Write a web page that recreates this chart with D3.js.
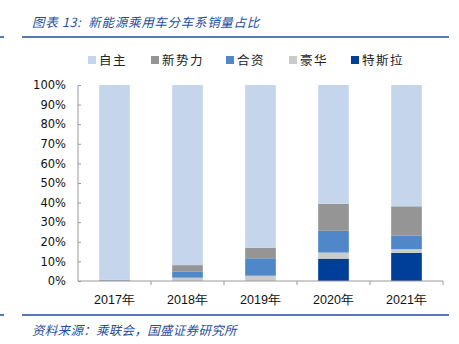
<!DOCTYPE html>
<html><head><meta charset="utf-8">
<script src="https://cdn.jsdelivr.net/npm/d3@7/dist/d3.min.js"></script>
<style>body{margin:0;background:#fff}svg{display:block}</style>
</head><body>
<script>
const years = ["2017年","2018年","2019年","2020年","2021年"];
const seriesNames = ["特斯拉","豪华","合资","新势力","自主"];
const tesla   = [0,   0,   0,   11.4, 14.3];
const luxury  = [0.2, 1.7, 2.7, 3.1,  2.0];
const jv      = [0.4, 3.0, 8.9, 11.1, 6.8];
const newf    = [0,   3.4, 5.3, 13.8, 15.0];
const domestic= years.map((d,i)=>100 - tesla[i]-luxury[i]-jv[i]-newf[i]);
const yTicks = [0,10,20,30,40,50,60,70,80,90,100];
const legendOrder = ["自主","新势力","合资","豪华","特斯拉"];
const colors = {"自主":"#c5d5eb","新势力":"#959595","合资":"#4f87c8","豪华":"#cbcbcb","特斯拉":"#003f99"};

const W=459,H=344;
const svg=d3.select("body").append("svg").attr("width",W).attr("height",H);
const blue="#1f4e9c";

// title
svg.append("text").attr("x",32).attr("y",27).attr("fill",blue).attr("font-size",12.5)
  .attr("font-style","italic").attr("font-family","'Noto Sans CJK SC',sans-serif").attr("letter-spacing",0.7)
  .attr("xml:space","preserve").text("图表 13:  新能源乘用车分车系销量占比");
svg.append("line").attr("x1",22).attr("x2",449).attr("y1",37).attr("y2",37).attr("stroke",blue).attr("stroke-width",1.5);
svg.append("line").attr("x1",0).attr("x2",4).attr("y1",37).attr("y2",37).attr("stroke",blue).attr("stroke-width",1.5);
svg.append("line").attr("x1",22).attr("x2",449).attr("y1",315).attr("y2",315).attr("stroke",blue).attr("stroke-width",1.5);
svg.append("line").attr("x1",0).attr("x2",4).attr("y1",315).attr("y2",315).attr("stroke",blue).attr("stroke-width",1.5);
svg.append("text").attr("x",32).attr("y",335).attr("fill",blue).attr("font-size",12.5).attr("letter-spacing",0.3)
  .attr("font-style","italic").attr("font-family","'Noto Sans CJK SC',sans-serif")
  .text("资料来源：乘联会，国盛证券研究所");

// legend
const legX=[88,151,226,289,351];
const lg=svg.append("g");
legendOrder.forEach((n,i)=>{
  lg.append("rect").attr("x",legX[i]).attr("y",56).attr("width",8).attr("height",8).attr("fill",colors[n]);
  lg.append("text").attr("x",legX[i]+11).attr("y",64.5).attr("font-size",12.5).attr("letter-spacing",1.5)
    .attr("font-family","'Noto Sans CJK SC',sans-serif").attr("fill","#222").text(n);
});

// scales
const x=d3.scaleBand().domain(years).range([78,443]).paddingInner(0.58).paddingOuter(0.29);
const y=d3.scaleLinear().domain([0,100]).range([281,85]);

const data=years.map((yr,i)=>({year:yr,"特斯拉":tesla[i],"豪华":luxury[i],"合资":jv[i],"新势力":newf[i],"自主":domestic[i]}));
const stacked=d3.stack().keys(seriesNames)(data);
svg.append("g").selectAll("g").data(stacked).join("g").attr("fill",d=>colors[d.key])
  .selectAll("rect").data(d=>d).join("rect")
  .attr("x",d=>x(d.data.year)).attr("width",x.bandwidth())
  .attr("y",d=>y(d[1])).attr("height",d=>y(d[0])-y(d[1]));

// y axis
const ya=svg.append("g").attr("transform","translate(78,0)")
  .call(d3.axisLeft(y).tickValues(yTicks).tickFormat(d=>d+"%").tickSize(-3).tickPadding(12));
ya.select(".domain").attr("stroke","#9a9a9a").attr("d","M0,85V281");
ya.selectAll(".tick line").attr("stroke","#9a9a9a");
ya.selectAll("text").attr("font-size",11.5).attr("font-family","'DejaVu Sans',Verdana,sans-serif").attr("fill","#111");

// x axis
const xa=svg.append("g").attr("transform","translate(0,281)")
  .call(d3.axisBottom(x).tickSize(0).tickPadding(14));
xa.select(".domain").attr("stroke","#9a9a9a").attr("d","M78,0H443");
xa.selectAll("text").attr("font-size",12.5).attr("font-family","'Liberation Sans',Arial,sans-serif").attr("fill","#111");
const bounds=years.map((d,i)=>78+i*(365/5)).concat([443]);
svg.append("g").selectAll("line").data(bounds.slice(1)).join("line")
  .attr("x1",d=>d).attr("x2",d=>d).attr("y1",281).attr("y2",285).attr("stroke","#9a9a9a");
</script>
</body></html>
